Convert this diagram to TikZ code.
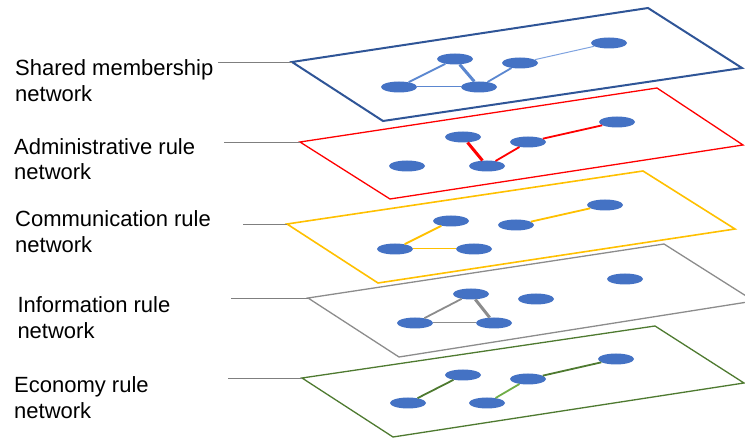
\documentclass[tikz,border=0pt]{standalone}
\usepackage{fontspec}
\setmainfont{Liberation Sans}
\usepackage{xcolor}
\usetikzlibrary{shapes.geometric}
\definecolor{vertexblue}{HTML}{4472C4}
\definecolor{sharedblue}{HTML}{2F5597}
\definecolor{tieblue}{HTML}{5B87D0}
\definecolor{paleblue}{HTML}{7FA3E0}
\definecolor{adminred}{HTML}{FF0000}
\definecolor{commyellow}{HTML}{FFC000}
\definecolor{infogrey}{HTML}{8C8C8C}
\definecolor{econgreen}{HTML}{4E7A30}
\definecolor{lightgreen}{HTML}{70AD47}
\definecolor{leadgrey}{HTML}{7F7F7F}
\def\lbl{\fontsize{22}{25.7}\selectfont}

\begin{document}
\begin{tikzpicture}[x=1pt,y=-1pt,every node/.style={align=left},
vertex/.style={ellipse,fill=vertexblue,minimum width=36pt,minimum height=11pt,inner sep=0pt},
layer/.style={line width=1.3pt,line join=miter},
lead/.style={draw=leadgrey,line width=0.9pt},
tie/.style={line width=1.8pt},thin tie/.style={line width=1pt},thick tie/.style={line width=3pt},
label/.style={anchor=base west,inner sep=0pt,font=\lbl}
]
\useasboundingbox (0,0) rectangle (745,438);
% Shared membership
\coordinate (sL) at (292,62); \coordinate (sT) at (648,8); \coordinate (sR) at (742,68); \coordinate (sB) at (383,121);
\draw[layer,draw=sharedblue,line width=2pt] (sL) -- (sT) -- (sR) -- (sB) -- cycle;
\node[vertex] (s1) at (455,59) {}; \node[vertex] (s2) at (520,63) {}; \node[vertex] (s3) at (609,43) {};
\node[vertex] (s4) at (399,87) {}; \node[vertex] (s5) at (479,87) {};
\draw[tie,tieblue] (s1) -- (s4); \draw[thick tie,tieblue] (s1) -- (s5); \draw[thin tie,tieblue] (s4) -- (s5);
\draw[tie,tieblue] (s5) -- (s2); \draw[thin tie,paleblue] (s2) -- (s3);
\node[label] (shared) at (15,101.7) {Shared membership\\network};
\coordinate (sLead) at (218,62); \draw[lead] (sLead) -- (sL);
% Administrative rule
\coordinate (aL) at (300,142); \coordinate (aT) at (657,88); \coordinate (aR) at (743,145); \coordinate (aB) at (390,199);
\draw[layer,draw=adminred] (aL) -- (aT) -- (aR) -- (aB) -- cycle;
\node[vertex] (a1) at (463,137) {}; \node[vertex] (a2) at (528,142) {}; \node[vertex] (a3) at (617,122) {};
\node[vertex] (a4) at (407,166) {}; \node[vertex] (a5) at (487,166) {};
\draw[thick tie,adminred] (a1) -- (a5); \draw[tie,adminred] (a5) -- (a2); \draw[tie,adminred] (a2) -- (a3);
\node[label] (admin) at (14,180) {Administrative rule\\network};
\coordinate (aLead) at (224,142); \draw[lead] (aLead) -- (aL);
% Communication rule
\coordinate (cL) at (287,224); \coordinate (cT) at (643,171); \coordinate (cR) at (735,229); \coordinate (cB) at (378,283);
\draw[layer,draw=commyellow,line width=1.6pt] (cL) -- (cT) -- (cR) -- (cB) -- cycle;
\node[vertex] (c1) at (451,221) {}; \node[vertex] (c2) at (516,225) {}; \node[vertex] (c3) at (605,205) {};
\node[vertex] (c4) at (395,249) {}; \node[vertex] (c5) at (474,249) {};
\draw[tie,commyellow] (c4) -- (c1); \draw[thin tie,commyellow] (c4) -- (c5); \draw[tie,commyellow] (c2) -- (c3);
\node[label] (comm) at (15,252.7) {Communication rule\\network};
\coordinate (cLead) at (243,224); \draw[lead] (cLead) -- (cL);
% Information rule
\coordinate (iL) at (308,298); \coordinate (iT) at (664,244); \coordinate (iR) at (754,301); \coordinate (iB) at (399,357);
\draw[layer,draw=infogrey] (iL) -- (iT) -- (iR) -- (iB) -- cycle;
\node[vertex] (i1) at (471,294) {}; \node[vertex] (i2) at (536,299) {}; \node[vertex] (i3) at (625,279) {};
\node[vertex] (i4) at (415,323) {}; \node[vertex] (i5) at (494,323) {};
\draw[tie,infogrey] (i4) -- (i1); \draw[thick tie,infogrey] (i1) -- (i5); \draw[thin tie,infogrey] (i4) -- (i5);
\node[label] (info) at (17.3,338.3) {Information rule\\network};
\coordinate (iLead) at (231,298); \draw[lead] (iLead) -- (iL);
% Economy rule
\coordinate (eL) at (302,378); \coordinate (eT) at (655,326); \coordinate (eR) at (744,383); \coordinate (eB) at (393,437);
\draw[layer,draw=econgreen] (eL) -- (eT) -- (eR) -- (eB) -- cycle;
\node[vertex] (e1) at (463,375) {}; \node[vertex] (e2) at (528,379) {}; \node[vertex] (e3) at (616,359) {};
\node[vertex] (e4) at (408,403) {}; \node[vertex] (e5) at (487,403) {};
\draw[tie,econgreen] (e4) -- (e1); \draw[tie,lightgreen] (e5) -- (e2); \draw[tie,econgreen] (e2) -- (e3);
\node[label] (econ) at (14,418.3) {Economy rule\\network};
\coordinate (eLead) at (228,378); \draw[lead] (eLead) -- (eL);
\end{tikzpicture}
\end{document}
